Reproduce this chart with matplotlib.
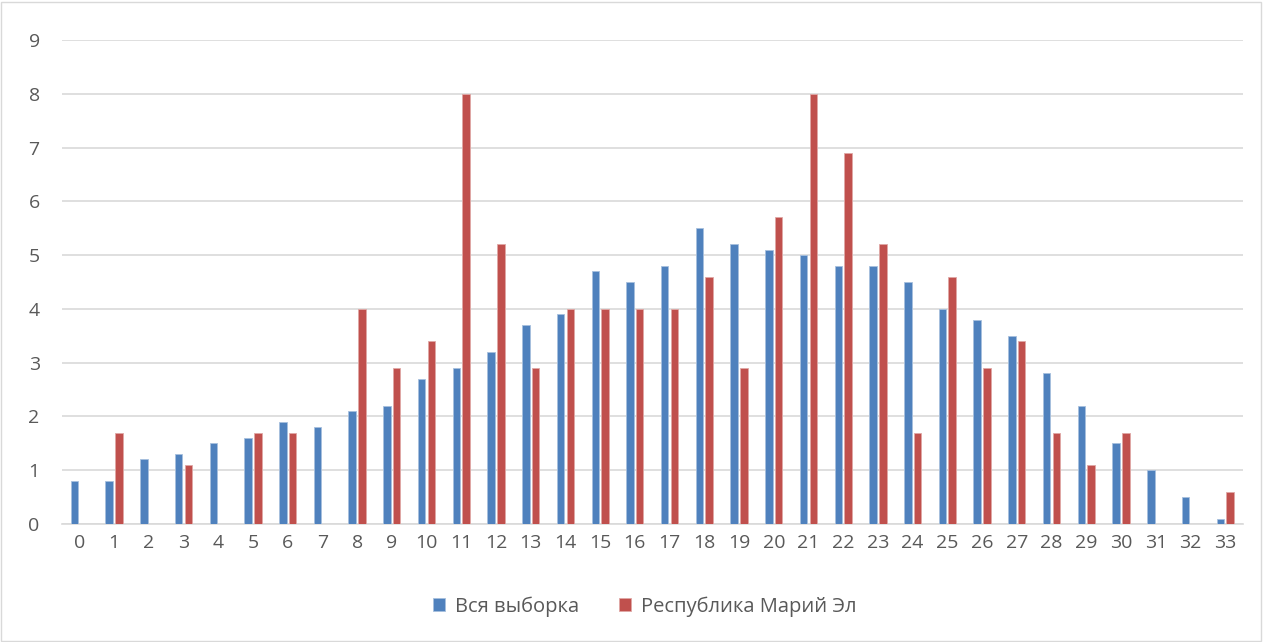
import numpy as np
import matplotlib
matplotlib.use("Agg")
import matplotlib.pyplot as plt
from matplotlib.patches import Rectangle

categories = list(range(34))
all_sample = [0.8, 0.8, 1.2, 1.3, 1.5, 1.6, 1.9, 1.8, 2.1, 2.2, 2.7, 2.9, 3.2, 3.7,
              3.9, 4.7, 4.5, 4.8, 5.5, 5.2, 5.1, 5.0, 4.8, 4.8, 4.5, 4.0, 3.8, 3.5,
              2.8, 2.2, 1.5, 1.0, 0.5, 0.1]
mari_el = [0, 1.7, 0, 1.1, 0, 1.7, 1.7, 0, 4.0, 2.9, 3.4, 8.0, 5.2, 2.9,
           4.0, 4.0, 4.0, 4.0, 4.6, 2.9, 5.7, 8.0, 6.9, 5.2, 1.7, 4.6, 2.9, 3.4,
           1.7, 1.1, 1.7, 0, 0, 0.6]
labels = ["Вся выборка", "Республика Марий Эл"]

plt.rcParams['font.family'] = ['Open Sans', 'DejaVu Sans']

fig = plt.figure(figsize=(12.64, 6.42), dpi=100)
ax = fig.add_axes([0.049, 0.1838, 0.934, 0.7539])

x = np.array(categories)
w = 0.215
ax.bar(x - 0.14, all_sample, width=w, color="#4F81BD", edgecolor="#A7C0DE",
       linewidth=0.6, label=labels[0], zorder=3)
ax.bar(x + 0.14, mari_el, width=w, color="#C0504D", edgecolor="#E0A8A6",
       linewidth=0.6, label=labels[1], zorder=3)

ax.set_xlim(-0.5, 33.5)
ax.set_ylim(0, 9)
ax.set_yticks(range(10))
ax.set_xticks(x)
ax.set_xticklabels([str(c) for c in categories])
ax.grid(axis="y", color="#D9D9D9", linewidth=1.2, zorder=0)
for s in ["top", "right", "left"]:
    ax.spines[s].set_visible(False)
ax.spines["bottom"].set_color("#D9D9D9")
ax.spines["bottom"].set_linewidth(1.2)
ax.tick_params(length=0, labelsize=14, colors="#595959")
ax.tick_params(axis="y", pad=16)
ax.tick_params(axis="x", pad=7)

leg = fig.legend(loc="center", bbox_to_anchor=(0.51, 0.055), ncol=2, frameon=False,
                 fontsize=14.5, handlelength=0.6, handleheight=0.6,
                 columnspacing=2.0, handletextpad=0.5)
for t in leg.get_texts():
    t.set_color("#595959")

fig.patches.append(Rectangle((0.001, 0.002), 0.997, 0.995, transform=fig.transFigure,
                             fill=False, edgecolor="#D9D9D9", linewidth=1))

fig.savefig("out.png", dpi=100)
